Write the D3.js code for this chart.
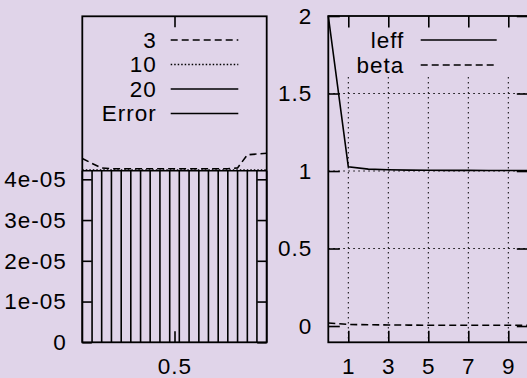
<!DOCTYPE html>
<html>
<head>
<meta charset="utf-8">
<script src="https://cdn.jsdelivr.net/npm/d3@7"></script>
<style>
  body { margin: 0; background: #e0d4e9; }
  svg { display: block; }
  text { font-family: 'Liberation Sans', Arial, sans-serif; font-size: 22.5px; fill: #000; letter-spacing: 1px; }
  .tick line { stroke: #000; stroke-width: 1.6; }
</style>
</head>
<body>
<div id="chart"></div>
<script>
// left panel data (values in units of 1)
const leftX = [0, 0.053, 0.105, 0.158, 0.211, 0.263, 0.316, 0.368, 0.421, 0.474,
               0.526, 0.579, 0.632, 0.684, 0.737, 0.789, 0.842, 0.895, 0.947, 1];
const left3 = [4.51e-5, 4.39e-5, 4.28e-5, 4.26e-5, 4.26e-5, 4.26e-5, 4.26e-5, 4.26e-5, 4.26e-5, 4.26e-5,
               4.26e-5, 4.26e-5, 4.26e-5, 4.26e-5, 4.26e-5, 4.26e-5, 4.28e-5, 4.60e-5, 4.62e-5, 4.64e-5];
const left10 = [4.23e-5, 4.23e-5, 4.23e-5, 4.23e-5, 4.23e-5, 4.23e-5, 4.23e-5, 4.23e-5, 4.23e-5, 4.23e-5,
                4.23e-5, 4.23e-5, 4.23e-5, 4.23e-5, 4.23e-5, 4.23e-5, 4.23e-5, 4.23e-5, 4.23e-5, 4.23e-5];
const left20 = [4.21e-5, 4.21e-5, 4.21e-5, 4.21e-5, 4.21e-5, 4.21e-5, 4.21e-5, 4.21e-5, 4.21e-5, 4.21e-5,
                4.21e-5, 4.21e-5, 4.21e-5, 4.21e-5, 4.21e-5, 4.21e-5, 4.21e-5, 4.21e-5, 4.21e-5, 4.21e-5];
const leftError = [4.21e-5, 4.21e-5, 4.21e-5, 4.21e-5, 4.21e-5, 4.21e-5, 4.21e-5, 4.21e-5, 4.21e-5, 4.21e-5,
                   4.21e-5, 4.21e-5, 4.21e-5, 4.21e-5, 4.21e-5, 4.21e-5, 4.21e-5, 4.21e-5, 4.21e-5, 4.21e-5];
const leftXTicks = [0.5];
const leftYTicks = [0, 1e-5, 2e-5, 3e-5, 4e-5];
const leftYLabels = ['0', '1e-05', '2e-05', '3e-05', '4e-05'];
const leftKeys = ['3', '10', '20', 'Error'];

// right panel data
const rightX = [0, 1, 2, 3, 4, 5, 6, 7, 8, 9, 10];
const leff = [2, 1.027, 1.012, 1.008, 1.006, 1.005, 1.004, 1.004, 1.003, 1.003, 1.003];
const beta = [0.02, 0.01, 0.008, 0.007, 0.006, 0.005, 0.005, 0.005, 0.005, 0.005, 0.005];
const rightXTicks = [1, 3, 5, 7, 9];
const rightYTicks = [0, 0.5, 1, 1.5, 2];
const rightGrid = [0.5, 1, 1.5];
const rightKeys = ['leff', 'beta'];

const svgWidth = 527;
const svgHeight = 378;

const svg = d3.select('#chart')
  .append('svg')
  .attr('width', svgWidth)
  .attr('height', svgHeight);

const dashes = { solid: null, dashed: '7,4', dotted: '1.5,2', grid: '1.5,3.5' };

//scales
const xL = d3.scaleLinear().domain([0, 1]).range([82.3, 266.7]);
const yL = d3.scaleLinear().domain([0, 8e-5]).range([342.3, 16.3]);
const xR = d3.scaleLinear().domain([0, 10]).range([328.3, 528.3]);
const yR = d3.scaleLinear().domain([-0.105, 2]).range([342.3, 16]);

function drawLine(g, xs, ys, xScale, yScale, dash, width) {
  const line = d3.line().x((d, i) => xScale(xs[i])).y(d => yScale(d));
  g.append('path')
    .datum(ys)
    .attr('d', line)
    .attr('fill', 'none')
    .attr('stroke', '#000')
    .attr('stroke-width', width || 1.6)
    .attr('stroke-dasharray', dash);
}

function drawFrame(g, xScale, yScale, xTicks, yTicks, yFormat, xTick, yTick, xPad, yPad) {
  const [x0, x1] = xScale.range();
  const [y0, y1] = yScale.range();
  const noLabel = () => '';

  g.append('g')
    .attr('transform', `translate(${x0},0)`)
    .call(d3.axisLeft(yScale).tickValues(yTicks).tickFormat(yFormat).tickSize(-yTick).tickPadding(yPad));
  g.append('g')
    .attr('transform', `translate(${x1},0)`)
    .call(d3.axisRight(yScale).tickValues(yTicks).tickFormat(noLabel).tickSize(-yTick));
  g.append('g')
    .attr('transform', `translate(0,${y0})`)
    .call(d3.axisBottom(xScale).tickValues(xTicks).tickSize(-xTick).tickPadding(xPad));
  g.append('g')
    .attr('transform', `translate(0,${y1})`)
    .call(d3.axisTop(xScale).tickValues(xTicks).tickFormat(noLabel).tickSize(-xTick));

  g.selectAll('.domain').remove();
  g.selectAll('.tick text').attr('font-size', null).attr('font-family', null).attr('fill', '#000');

  g.append('rect')
    .attr('x', x0).attr('y', y1)
    .attr('width', x1 - x0).attr('height', y0 - y1)
    .attr('fill', 'none')
    .attr('stroke', '#000')
    .attr('stroke-width', 1.8);
}

function drawKey(g, keys, styles, textRight, lineX0, lineX1, rowY, rowH) {
  keys.forEach((k, i) => {
    const y = rowY + i * rowH;
    g.append('text')
      .attr('x', textRight)
      .attr('y', y)
      .attr('dy', '0.35em')
      .attr('text-anchor', 'end')
      .text(k);
    g.append('line')
      .attr('x1', lineX0).attr('x2', lineX1)
      .attr('y1', y).attr('y2', y)
      .attr('stroke', '#000')
      .attr('stroke-width', 1.6)
      .attr('stroke-dasharray', styles[i]);
  });
}

// ---------- left panel ----------
const leftG = svg.append('g');

// impulses
leftG.selectAll('line.impulse')
  .data(leftError)
  .enter()
  .append('line')
  .attr('class', 'impulse')
  .attr('x1', (d, i) => xL(leftX[i]))
  .attr('x2', (d, i) => xL(leftX[i]))
  .attr('y1', yL(0))
  .attr('y2', d => yL(d))
  .attr('stroke', '#000')
  .attr('stroke-width', 1.6);

drawLine(leftG, leftX, left3, xL, yL, dashes.dashed);
drawLine(leftG, leftX, left10, xL, yL, dashes.dotted);
drawLine(leftG, leftX, left20, xL, yL, dashes.solid);

drawFrame(leftG, xL, yL, leftXTicks, leftYTicks, (d, i) => leftYLabels[i], 11, 9.5, 15.5, 15.5);
drawKey(leftG, leftKeys, [dashes.dashed, dashes.dotted, dashes.solid, dashes.solid], 156.7, 170.7, 238.3, 40, 24.5);

// ---------- right panel ----------
const rightG = svg.append('g');
const keyBottom = 77;

rightG.selectAll('line.vgrid')
  .data(rightXTicks)
  .enter()
  .append('line')
  .attr('class', 'vgrid')
  .attr('x1', d => xR(d)).attr('x2', d => xR(d))
  .attr('y1', keyBottom).attr('y2', yR.range()[0])
  .attr('stroke', '#000')
  .attr('stroke-width', 1)
  .attr('stroke-dasharray', dashes.grid);

rightG.selectAll('line.hgrid')
  .data(rightGrid)
  .enter()
  .append('line')
  .attr('class', 'hgrid')
  .attr('x1', xR.range()[0]).attr('x2', xR.range()[1])
  .attr('y1', d => yR(d)).attr('y2', d => yR(d))
  .attr('stroke', '#000')
  .attr('stroke-width', 1)
  .attr('stroke-dasharray', dashes.grid);

drawLine(rightG, rightX, leff, xR, yR, dashes.solid);
drawLine(rightG, rightX, beta, xR, yR, dashes.dashed);

drawFrame(rightG, xR, yR, rightXTicks, rightYTicks, d3.format(''), 11.5, 11.5, 15.5, 16);
drawKey(rightG, rightKeys, [dashes.solid, dashes.dashed], 404.3, 420.7, 496.7, 40, 25);
</script>
</body>
</html>
